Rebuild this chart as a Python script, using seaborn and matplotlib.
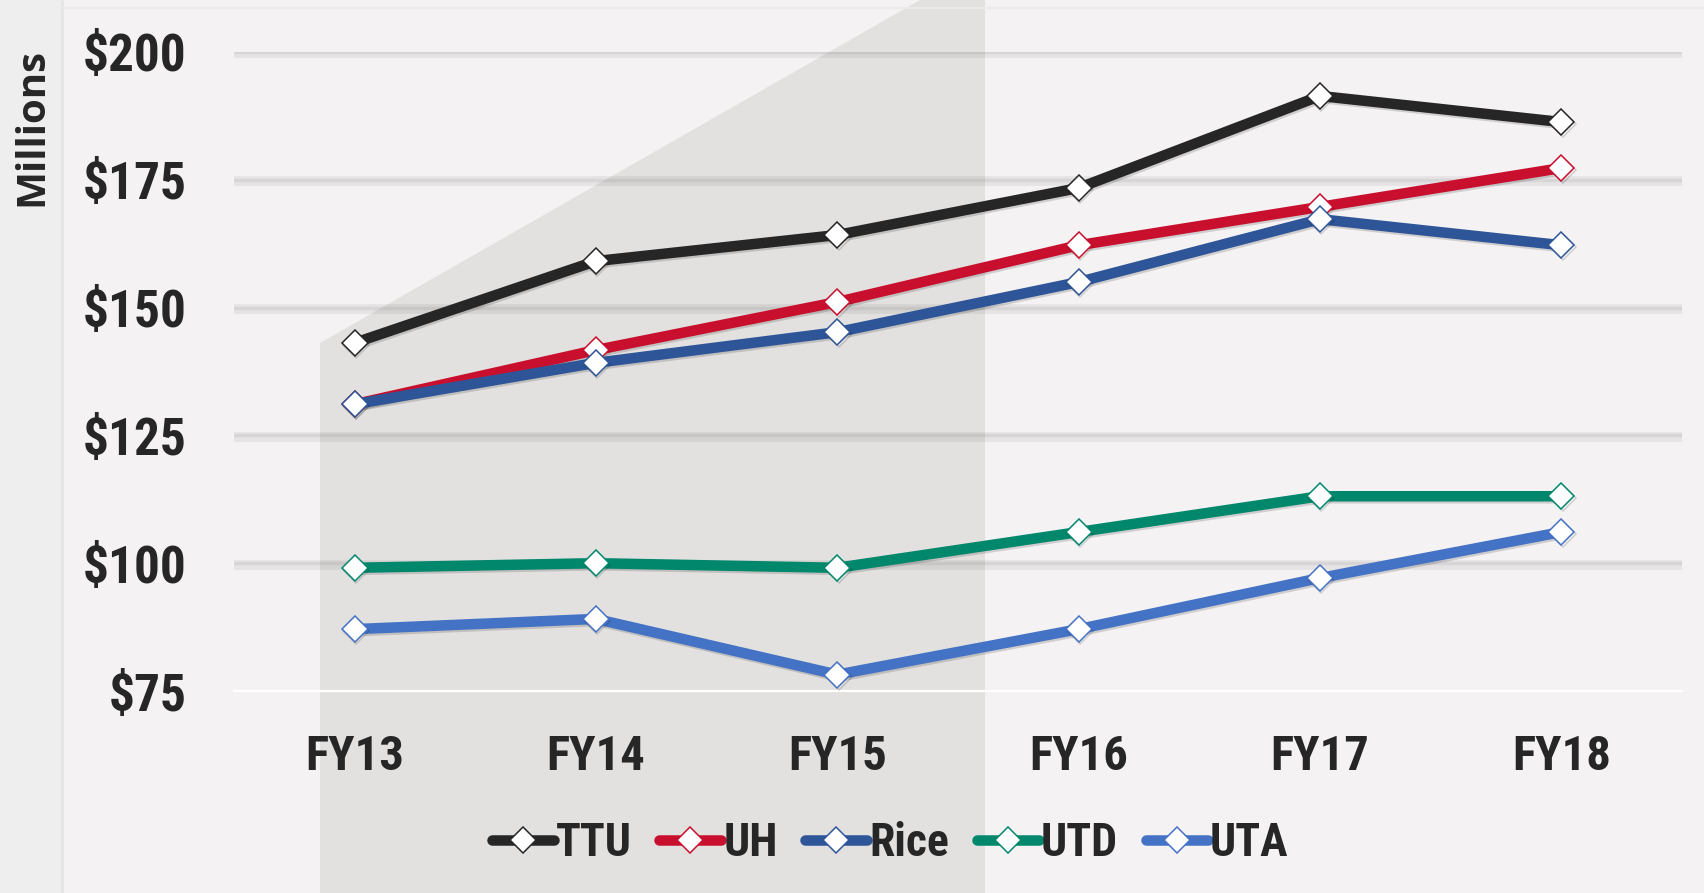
import matplotlib
matplotlib.use("Agg")
import numpy as np
import pandas as pd
import matplotlib.pyplot as plt
import matplotlib.patheffects as pe
from matplotlib.patches import Polygon, Rectangle
from matplotlib import font_manager as fm
import seaborn as sns

# ---- data ----
years = ["FY13", "FY14", "FY15", "FY16", "FY17", "FY18"]
ttu = [143.1, 159.1, 164.2, 173.4, 191.4, 186.3]
uh = [131.1, 141.7, 151.1, 162.2, 169.7, 177.3]
rice = [131.1, 139.2, 145.2, 155.0, 167.3, 162.2]
utd = [99.1, 100.0, 99.1, 106.1, 113.1, 113.1]
uta = [87.1, 89.1, 78.2, 87.1, 97.1, 106.1]
schools = ["TTU", "UH", "Rice", "UTD", "UTA"]
colors = ["#262626", "#C8102E", "#2E5597", "#00876C", "#4472C4"]
yticks = [75, 100, 125, 150, 175, 200]
ytick_labels = ["$75", "$100", "$125", "$150", "$175", "$200"]

series = dict(zip(schools, [ttu, uh, rice, utd, uta]))
df = pd.DataFrame([(s, y, v) for s in schools for y, v in zip(years, series[s])],
                  columns=["school", "year", "value"])

sns.set_style("white")
names = {f.name for f in fm.fontManager.ttflist}
cond_family = None
for n in ["Liberation Sans Narrow", "DejaVu Sans Condensed", "Roboto Condensed"]:
    if n in names:
        cond_family = n
        break
if cond_family is None:
    cond_family = "Liberation Sans"
plt.rcParams["font.family"] = [cond_family, "DejaVu Sans"]

W, H = 1704, 893
fig = plt.figure(figsize=(W / 100, H / 100), dpi=100)
fig.patch.set_facecolor("#F4F2F3")

# background decorations (pixel coords)
bg = fig.add_axes([0, 0, 1, 1], zorder=-10)
bg.set_xlim(0, W)
bg.set_ylim(H, 0)
bg.axis("off")
bg.add_patch(Rectangle((0, 0), 62, H, facecolor="#EFEEEE", edgecolor="none"))
bg.plot([62, 62], [0, H], color="#E6E5E5", lw=2)
bg.plot([62, W], [8, 8], color="#ECEBEB", lw=1.5)
bg.add_patch(Polygon([(320, H), (320, 343), (920, 0), (985, 0), (985, H)],
                     closed=True, facecolor="#E2E1E0", edgecolor="none"))

# main axes
left, right, top, bottom = 234, 1682, 52, 691
ax = fig.add_axes([left / W, 1 - bottom / H, (right - left) / W, (bottom - top) / H])
ax.set_facecolor("none")

lw = 10.5 * 0.72
for s, c in zip(schools, colors):
    sub = df[df.school == s]
    sns.lineplot(data=sub, x="year", y="value", color=c, lw=lw, marker="D",
                 markersize=13.2, markerfacecolor="white", markeredgecolor=c,
                 markeredgewidth=1.1, label=s, ax=ax, sort=False, zorder=3,
                 solid_capstyle="round",
                 path_effects=[pe.SimpleLineShadow(offset=(1.0, -1.5), shadow_color="k",
                                                   alpha=0.15), pe.Normal()])

ax.set_xlim(-0.5, 5.5)
ax.set_ylim(75, 200)
ax.set_yticks(yticks)
ax.set_yticklabels(ytick_labels)
ax.set_xlabel("")
ax.set_ylabel("")
for sp in ["left", "right", "top"]:
    ax.spines[sp].set_visible(False)
ax.spines["bottom"].set_color("white")
ax.spines["bottom"].set_linewidth(1.6)

ax.grid(axis="y", color="black", alpha=0.06, lw=2.4)
for i, gl in enumerate(ax.yaxis.get_gridlines()):
    if i == 0:
        gl.set_visible(False)
    else:
        gl.set_path_effects([pe.Stroke(linewidth=7, offset=(0, -1)), pe.Normal()])
ax.set_axisbelow(True)

ax.tick_params(axis="y", length=0, pad=34, labelsize=37, labelcolor="#262626")
ax.tick_params(axis="x", length=0, pad=31, labelsize=35, labelcolor="#262626")
for t in ax.get_xticklabels() + ax.get_yticklabels():
    t.set_fontweight("bold")

# y label
fig.text(32 / W, 1 - 127 / H, "Millions", rotation=90, ha="center", va="center",
         fontsize=29, fontweight="bold", color="#262626",
         family=["Open Sans", "DejaVu Sans"])

# legend
handles, labels = ax.get_legend_handles_labels()
ax.get_legend().remove()
leg = fig.legend(handles, labels, loc="center", bbox_to_anchor=(890 / W, 1 - 843 / H),
                 ncol=5, frameon=False, handlelength=1.35,
                 handletextpad=0.05, columnspacing=0.6,
                 prop={"weight": "bold", "size": 33})
for t in leg.get_texts():
    t.set_color("#262626")
for ln in leg.get_lines():
    ln.set_solid_capstyle("round")
    ln.set_path_effects([])

fig.savefig("out.png", dpi=100, facecolor=fig.get_facecolor())
